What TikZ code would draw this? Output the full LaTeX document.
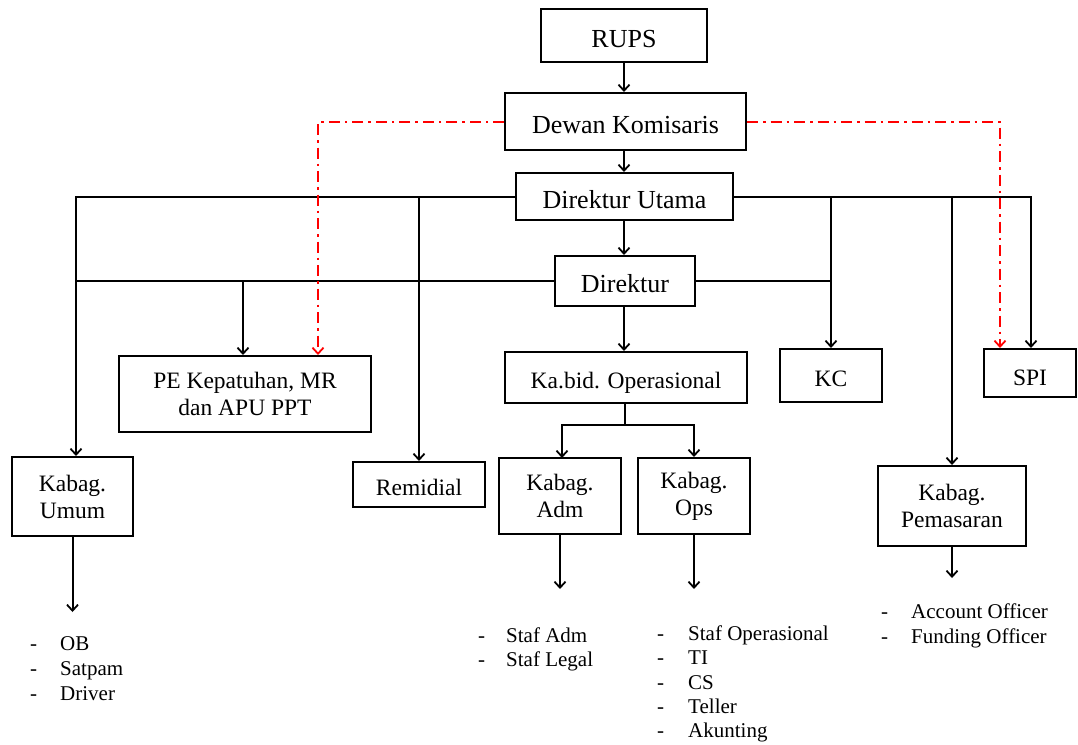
\documentclass[tikz,border=0pt]{standalone}
\usepackage{fontspec}
\setmainfont{Liberation Serif}
\usetikzlibrary{arrows.meta}
\begin{document}
\begin{tikzpicture}[x=1pt,y=-1pt,
  box/.style={draw, line width=2pt, inner sep=0pt, align=center},
  big/.style={font=\fontsize{26}{30}\selectfont, text height=23.2pt, text depth=0pt},
  mid/.style={font=\fontsize{23.5}{27}\selectfont},
  one/.style={text height=22.6pt, text depth=0pt},
  lst/.style={font=\fontsize{21}{24}\selectfont, inner sep=0pt, text height=7pt, text depth=2pt, anchor=west, yshift=-3pt},
  ln/.style={line width=2pt},
  arr/.style={ln, -{Straight Barb[length=6pt,width=11pt,line width=1.8pt]}},
  rarr/.style={line width=2pt, red, dash pattern=on 11pt off 5pt on 2.5pt off 5pt, -{Straight Barb[length=6pt,width=11pt,line width=1.8pt]}}
]
\useasboundingbox (0,0) rectangle (1078,744);

% boxes
\node[box,big,minimum width=166pt,minimum height=53pt] (rups) at (624,35.5) {RUPS};
\node[box,big,minimum width=241pt,minimum height=57pt] (dk) at (625.5,121.5) {Dewan Komisaris};
\node[box,big,minimum width=217pt,minimum height=47pt] (du) at (624.5,196.5) {Direktur Utama};
\node[box,big,minimum width=140pt,minimum height=50pt] (dir) at (625,281) {Direktur};
\node[box,mid,minimum width=252pt,minimum height=76pt] (pe) at (245,394) {PE Kepatuhan, MR\\dan APU PPT};
\node[box,mid,one,minimum width=242pt,minimum height=51pt] (kabid) at (626,377.5) {Ka.bid. Operasional};
\node[box,mid,one,minimum width=102pt,minimum height=53pt] (kc) at (831,375.5) {KC};
\node[box,mid,text height=25.6pt,text depth=0pt,minimum width=92pt,minimum height=48pt] (spi) at (1030,373) {SPI};
\node[box,mid,minimum width=121pt,minimum height=79pt] (umum) at (72.5,496.5) {Kabag.\\Umum};
\node[box,mid,one,minimum width=132pt,minimum height=45pt] (rem) at (419,484.5) {Remidial};
\node[box,mid,minimum width=122pt,minimum height=76pt] (adm) at (560,496) {Kabag.\\Adm};
\node[box,mid,minimum width=112pt,minimum height=76pt] (ops) at (694,496) {Kabag.\\Ops};
\node[box,mid,minimum width=148pt,minimum height=80pt] (pem) at (952,506) {Kabag.\\Pemasaran};

% vertical chain
\draw[arr] (rups.south) -- (rups.south |- dk.north);
\draw[arr] (rups.south |- dk.south) -- (rups.south |- du.north);
\draw[arr] (rups.south |- du.south) -- (rups.south |- dir.north);
\draw[arr] (rups.south |- dir.south) -- (rups.south |- kabid.north);

% Direktur Utama line
\coordinate (uL) at (76,197);
\coordinate (uR) at (1031,197);
\draw[arr] (du.west |- uL) -- (uL) -- (uL |- umum.north);
\draw[arr] (du.east |- uR) -- (uR) -- (uR |- spi.north);
\draw[arr] (rem.north |- uL) -- (rem.north);
\draw[arr] (kc.north |- uL) -- (kc.north);
\draw[arr] (pem.north |- uL) -- (pem.north);

% Direktur line
\coordinate (dL) at (76,281);
\draw[ln] (dir.west) -- (dL);
\draw[ln] (dir.east) -- (kc.north |- dir.east);
\coordinate (peT) at (243,281);
\draw[arr] (peT) -- (peT |- pe.north);

% Kabid branches
\coordinate (kb) at (625,425);
\draw[ln] (kb |- kabid.south) -- (kb);
\draw[arr] (kb) -| (562,458);
\draw[arr] (kb) -| (ops.north);

% down arrows to lists
\draw[arr] (umum.south) -- ++(0,75);
\draw[arr] (adm.south) -- ++(0,54);
\draw[arr] (ops.south) -- ++(0,54);
\draw[arr] (pem.south) -- ++(0,31);

% red dash-dot lines
\coordinate (rL) at (318,122);
\coordinate (rR) at (1000,122);
\draw[rarr] (dk.west |- rL) -- (rL) -- (rL |- pe.north);
\draw[rarr] (dk.east |- rR) -- (rR) -- (rR |- spi.north);

% lists
\node[lst] (u1d) at (30,645) {-}; \node[lst] (u1) at (60,645) {OB};
\node[lst] (u2d) at (30,670) {-}; \node[lst] (u2) at (60,670) {Satpam};
\node[lst] (u3d) at (30,695) {-}; \node[lst] (u3) at (60,695) {Driver};

\node[lst] (a1d) at (478,637) {-}; \node[lst] (a1) at (506,637) {Staf Adm};
\node[lst] (a2d) at (478,661) {-}; \node[lst] (a2) at (506,661) {Staf Legal};

\node[lst] (o1d) at (657,635) {-}; \node[lst] (o1) at (688,635) {Staf Operasional};
\node[lst] (o2d) at (657,659) {-}; \node[lst] (o2) at (688,659) {TI};
\node[lst] (o3d) at (657,684) {-}; \node[lst] (o3) at (688,684) {CS};
\node[lst] (o4d) at (657,708) {-}; \node[lst] (o4) at (688,708) {Teller};
\node[lst] (o5d) at (657,732) {-}; \node[lst] (o5) at (688,732) {Akunting};

\node[lst] (p1d) at (881,613) {-}; \node[lst] (p1) at (911,613) {Account Officer};
\node[lst] (p2d) at (881,638) {-}; \node[lst] (p2) at (911,638) {Funding Officer};
\end{tikzpicture}
\end{document}
